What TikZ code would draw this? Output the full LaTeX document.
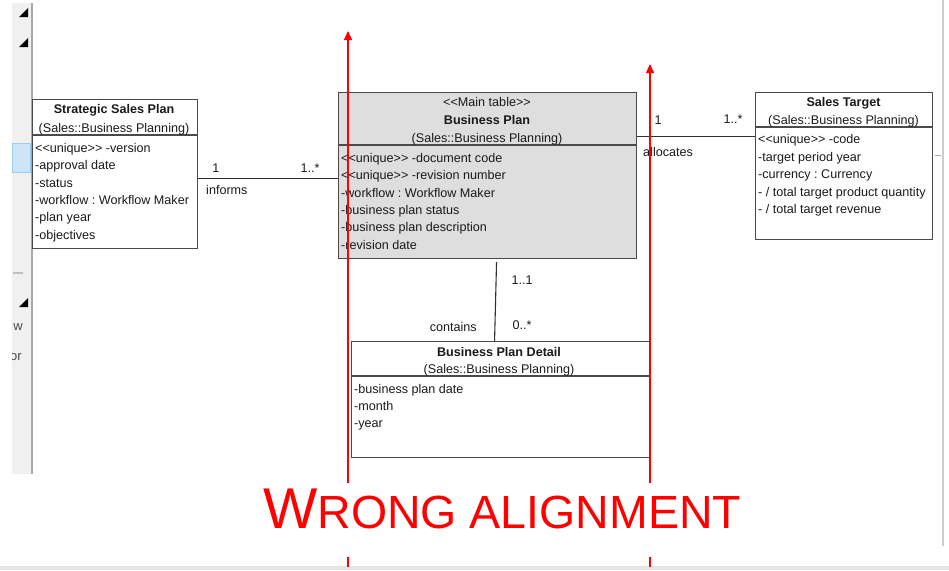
\documentclass[tikz,border=0pt]{standalone}
\usepackage{fontspec}
\setmainfont{Liberation Sans}[Ligatures=TeXOff]
\usetikzlibrary{arrows.meta,calc}
\definecolor{boxline}{HTML}{4A4A4A}
\definecolor{conn}{HTML}{303030}
\definecolor{txt}{HTML}{1A1A1A}
\definecolor{bpfill}{HTML}{DEDEDE}
\definecolor{panel}{HTML}{F0F0F0}
\definecolor{panelline}{HTML}{A8A8A8}
\definecolor{hlfill}{HTML}{CDE5F8}
\definecolor{hlline}{HTML}{9FCBEE}
\definecolor{wrong}{HTML}{FF0000}
\newcommand{\umlfont}{\fontsize{12.6}{15}\selectfont}
\frenchspacing
\begin{document}
\begin{tikzpicture}[x=1pt,y=-1pt,
  umlbox/.style={draw=boxline,line width=1.1pt,anchor=north west,inner sep=0pt},
  attr/.style={anchor=west,inner sep=0pt,font=\umlfont,text=txt,text height=9pt,text depth=2.6pt,yshift=-1.8pt},
  ttl/.style={anchor=center,inner sep=0pt,font=\umlfont,text=txt,text height=9pt,text depth=2.6pt,yshift=-1.8pt},
  lbl/.style={inner sep=0pt,font=\umlfont,text=txt,text height=9pt,text depth=2.6pt,yshift=-1.5pt},
  divider/.style={draw=boxline,line width=1.1pt},
  assoc/.style={draw=conn,line width=1.1pt},
  redline/.style={draw=wrong,line width=1.5pt},
  redhead/.style={-{Triangle[length=9pt,width=8pt]}},
  tri/.style={fill=black},
]
\useasboundingbox (0,0) rectangle (949,570);

% --- window chrome ---
\fill[panel] (12,3) rectangle (32,474);
\draw[panelline,line width=1.4pt] (32,3) -- (32,474);
\fill[tri] (28,8) -- (28,17) -- (19,17) -- cycle;
\fill[tri] (28,38) -- (28,47) -- (19,47) -- cycle;
\fill[tri] (28,298) -- (28,307) -- (19,307) -- cycle;
\filldraw[fill=hlfill,draw=hlline,line width=0.8pt] (12,143) rectangle (30,172);
\draw[draw=gray!50,line width=1.2pt] (13,273) -- (23,273);
\begin{scope}
  \clip (12,310) rectangle (31,370);
  \node[anchor=east,inner sep=0pt,font=\fontsize{13}{15}\selectfont,text=txt!80] (wtxt) at (23,327) {w};
  \node[anchor=east,inner sep=0pt,font=\fontsize{13}{15}\selectfont,text=txt!80] (ortxt) at (22,357) {or};
\end{scope}
\draw[gray!40,line width=1.2pt] (943,0) -- (943,546);
\draw[gray!70,line width=1pt] (935,155) -- (941,155);
\fill[gray!20] (0,566) rectangle (949,570);

% --- Strategic Sales Plan ---
\node[umlbox,minimum width=165pt,minimum height=149pt] (ssp) at (32,99) {};
\draw[divider] ($(ssp.north west)+(0,36)$) -- ($(ssp.north east)+(0,36)$);
\node[ttl,font=\umlfont\bfseries] (ssp-t) at (114,108) {Strategic Sales Plan};
\node[ttl] (ssp-p) at (114,127) {(Sales::Business Planning)};
\node[attr] (ssp-a1) at (35,147) {<<unique>> -version};
\node[attr] (ssp-a2) at (35,164.5) {-approval date};
\node[attr] (ssp-a3) at (35,182) {-status};
\node[attr] (ssp-a4) at (35,199) {-workflow : Workflow Maker};
\node[attr] (ssp-a5) at (35,216.5) {-plan year};
\node[attr] (ssp-a6) at (35,234) {-objectives};

% --- Business Plan ---
\node[umlbox,fill=bpfill,minimum width=298pt,minimum height=166pt] (bp) at (338,92) {};
\draw[divider] ($(bp.north west)+(0,53)$) -- ($(bp.north east)+(0,53)$);
\node[ttl] (bp-s) at (487,101) {<<Main table>>};
\node[ttl,font=\umlfont\bfseries] (bp-t) at (487,119) {Business Plan};
\node[ttl] (bp-p) at (487,137) {(Sales::Business Planning)};
\node[attr] (bp-a1) at (341,157) {<<unique>> -document code};
\node[attr] (bp-a2) at (341,174.5) {<<unique>> -revision number};
\node[attr] (bp-a3) at (341,192) {-workflow : Workflow Maker};
\node[attr] (bp-a4) at (341,209) {-business plan status};
\node[attr] (bp-a5) at (341,226.5) {-business plan description};
\node[attr] (bp-a6) at (341,244) {-revision date};

% --- Sales Target ---
\node[umlbox,minimum width=177pt,minimum height=147pt] (st) at (755,92) {};
\draw[divider] ($(st.north west)+(0,35)$) -- ($(st.north east)+(0,35)$);
\node[ttl,font=\umlfont\bfseries] (st-t) at (843.5,101) {Sales Target};
\node[ttl] (st-p) at (843.5,119) {(Sales::Business Planning)};
\node[attr] (st-a1) at (758,138.5) {<<unique>> -code};
\node[attr] (st-a2) at (758,156) {-target period year};
\node[attr] (st-a3) at (758,173.5) {-currency : Currency};
\node[attr] (st-a4) at (758,191) {- / total target product quantity};
\node[attr] (st-a5) at (758,208.5) {- / total target revenue};

% --- Business Plan Detail ---
\node[umlbox,minimum width=298pt,minimum height=116pt] (bpd) at (351,341) {};
\draw[divider] ($(bpd.north west)+(0,35)$) -- ($(bpd.north east)+(0,35)$);
\node[ttl,font=\umlfont\bfseries] (bpd-t) at (499,351) {Business Plan Detail};
\node[ttl] (bpd-p) at (499,368) {(Sales::Business Planning)};
\node[attr] (bpd-a1) at (354,388) {-business plan date};
\node[attr] (bpd-a2) at (354,405) {-month};
\node[attr] (bpd-a3) at (354,422) {-year};

% --- associations ---
\draw[assoc] ([yshift=-4.5pt]ssp.east) -- ([yshift=-4.5pt]ssp.east -| bp.west);
\node[lbl] (l-inf1) at (216,168) {1};
\node[lbl] (l-inf2) at (310,168) {1..*};
\node[lbl,anchor=west] (l-inf) at (206,190) {informs};

\draw[assoc] ([yshift=39pt]bp.east) -- ([yshift=39pt]bp.east -| st.west);
\node[lbl] (l-al1) at (658,120) {1};
\node[lbl] (l-al2) at (733,118.5) {1..*};
\node[lbl,anchor=west] (l-al) at (643,152) {allocates};

\draw[assoc] ([xshift=9pt,yshift=-3pt]bp.south) -- ([xshift=-6pt]bpd.north);
\node[lbl] (l-c1) at (522,280) {1..1};
\node[lbl] (l-c2) at (522,324.5) {0..*};
\node[lbl,anchor=east] (l-c) at (477,327) {contains};

% --- red alignment markers ---
\coordinate (la-top) at (348,31);
\coordinate (la-bot) at (348,483);
\coordinate (la-b1) at (348,557);
\coordinate (la-b2) at (348,567);
\coordinate (ra-top) at (650,64);
\coordinate (ra-bot) at (650,483);
\coordinate (ra-b1) at (650,557);
\coordinate (ra-b2) at (650,567);
\draw[redline,redhead] (la-bot) -- (la-top);
\draw[redline] (la-b1) -- (la-b2);
\draw[redline,redhead] (ra-bot) -- (ra-top);
\draw[redline] (ra-b1) -- (ra-b2);
\node[anchor=base west,inner sep=0pt,text=wrong] (wrongtxt) at (263,528)
  {{\fontsize{57.5}{60}\selectfont W}{\fontsize{46.5}{50}\selectfont RONG ALIGNMENT}};
\end{tikzpicture}
\end{document}
